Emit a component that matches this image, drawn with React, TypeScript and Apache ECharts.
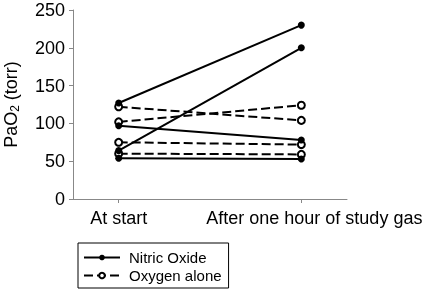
import React, { useEffect, useRef } from "react";
import * as echarts from "echarts";

const categories = ["At start", "After one hour of study gas"];
const yTicks = [0, 50, 100, 150, 200, 250];
const nitricStart = [127, 64, 97, 54];
const nitricEnd = [230, 200, 78, 53];
const oxygenStart = [122, 102, 75, 60];
const oxygenEnd = [104, 124, 72, 59];
const seriesNames = ["Nitric Oxide", "Oxygen alone"];

const FONT = "Liberation Sans, Arial, sans-serif";

export default function App() {
  const ref = useRef<HTMLDivElement>(null);
  useEffect(() => {
    if (!ref.current) return;
    const chart = echarts.init(ref.current, undefined, { renderer: "svg" });
    const series: any[] = [];
    nitricStart.forEach((s, i) => {
      series.push({
        name: seriesNames[0],
        type: "line",
        data: [[0, s], [1, nitricEnd[i]]],
        symbol: "circle",
        symbolSize: 7,
        itemStyle: { color: "#000" },
        lineStyle: { color: "#000", width: 2, type: "solid" },
        z: 3,
      });
    });
    oxygenStart.forEach((s, i) => {
      series.push({
        name: seriesNames[1],
        type: "line",
        data: [[0, s], [1, oxygenEnd[i]]],
        symbol: "emptyCircle",
        symbolSize: 7,
        itemStyle: { color: "#000", borderWidth: 1 },
        lineStyle: { color: "#000", width: 2, type: [9, 4] },
        z: 2,
      });
    });
    chart.setOption({
      animation: false,
      textStyle: { fontFamily: FONT },
      grid: {
        left: 73,
        right: 80,
        top: 10,
        bottom: 94,
        containLabel: false,
        outerBoundsMode: "none",
      },
      xAxis: {
        type: "value",
        min: -0.25,
        max: 1.25,
        splitLine: { show: false },
        axisLine: { onZero: false, lineStyle: { color: "#888", width: 1 } },
        axisTick: { customValues: [0, 1], length: 4, lineStyle: { color: "#888" } },
        axisLabel: {
          customValues: [0, 1],
          margin: 10,
          color: "#000",
          fontFamily: FONT,
          fontSize: 18,
          formatter: (v: number) =>
            v === 0 ? `{a|${categories[0]}}` : `{b|${categories[1]}}`,
          rich: {
            a: { fontSize: 18, fontFamily: FONT, color: "#000" },
            b: { fontSize: 18, fontFamily: FONT, color: "#000", padding: [0, 0, 0, 26] },
          },
        },
      },
      yAxis: {
        type: "value",
        min: yTicks[0],
        max: yTicks[yTicks.length - 1],
        interval: 50,
        splitLine: { show: false },
        axisLine: { show: true, onZero: false, lineStyle: { color: "#888", width: 1 } },
        axisTick: { show: true, length: 4, lineStyle: { color: "#888" } },
        axisLabel: { color: "#000", fontSize: 18, fontFamily: FONT, margin: 8 },
        name: "PaO{sub|2} (torr)",
        nameLocation: "middle",
        nameRotate: 90,
        nameGap: 52,
        nameTextStyle: {
          color: "#000",
          fontSize: 18,
          fontFamily: FONT,
          rich: {
            sub: { fontSize: 12, fontFamily: FONT, color: "#000", padding: [8, 0, 0, 0] },
          },
        },
      },
      legend: {
        data: seriesNames,
        orient: "vertical",
        left: 78,
        top: 243,
        padding: [7, 7, 5, 5],
        itemGap: 3,
        itemWidth: 36,
        itemHeight: 7,
        borderColor: "#000",
        borderWidth: 1,
        textStyle: { color: "#000", fontSize: 15, fontFamily: FONT, padding: [0, 0, 0, 4] },
        selectedMode: false,
      },
      series,
    });
    return () => chart.dispose();
  }, []);
  return (
    <div
      ref={ref}
      style={{ position: "fixed", left: 0, top: 0, width: 427, height: 293 }}
    />
  );
}
